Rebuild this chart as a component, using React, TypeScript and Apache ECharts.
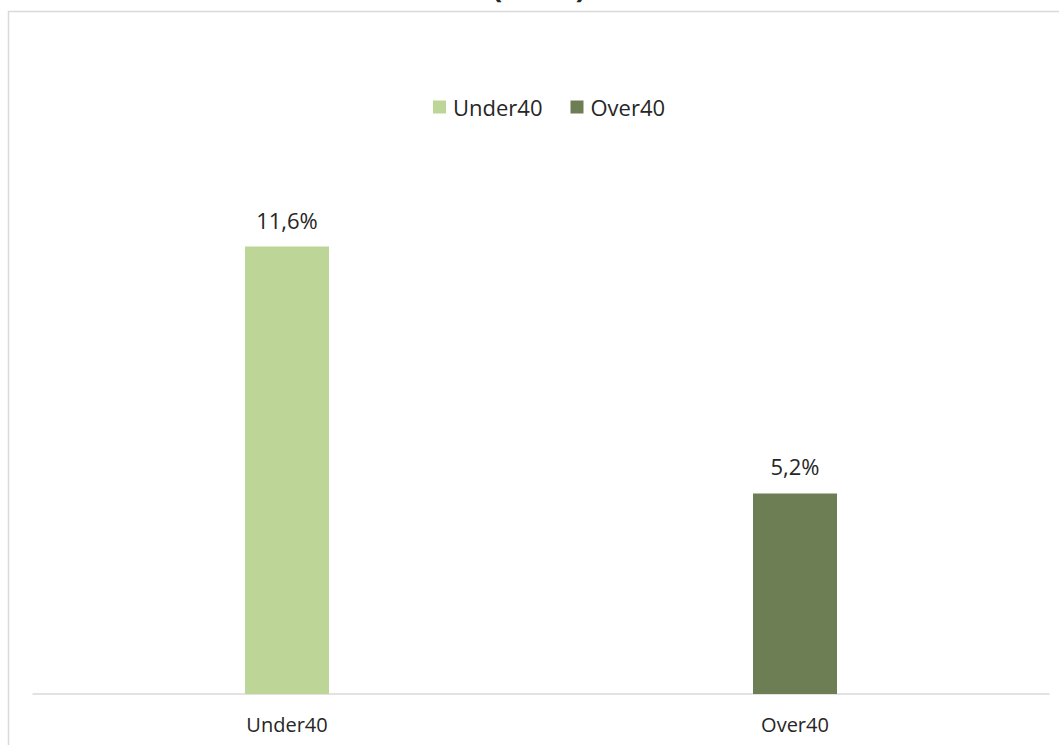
import React, { useEffect, useRef } from "react";
import * as echarts from "echarts";

const categories = ["Under40", "Over40"];
const under40Values = [11.6, null];
const over40Values = [null, 5.2];
const titleText = "(2019)";

export default function App() {
  const ref = useRef<HTMLDivElement>(null);
  useEffect(() => {
    const chart = echarts.init(ref.current!, undefined, { renderer: "svg" });
    const fmt = (p: any) =>
      p.value == null ? "" : String(p.value.toFixed(1)).replace(".", ",") + "%";
    const label = {
      show: true,
      position: "top",
      distance: 16,
      formatter: fmt,
      fontFamily: "Open Sans",
      fontSize: 22,
      color: "#262626",
    };
    chart.setOption({
      animation: false,
      backgroundColor: "#ffffff",
      textStyle: { fontFamily: "Open Sans" },
      graphic: [
        {
          type: "rect",
          shape: { x: 8.5, y: 11.5, width: 1200, height: 900 },
          style: { fill: "none", stroke: "#d9d9d9", lineWidth: 1.5 },
          silent: true,
        },
        {
          type: "text",
          x: 539,
          y: 0,
          style: {
            text: titleText,
            fontFamily: "Open Sans",
            fontWeight: "bold",
            fontSize: 32,
            fill: "#262626",
            align: "center",
            verticalAlign: "bottom",
          },
        },
      ],
      legend: {
        data: categories,
        top: 91,
        left: 428,
        icon: "rect",
        itemWidth: 13,
        itemHeight: 13,
        itemGap: 28,
        textStyle: { fontFamily: "Open Sans", fontSize: 22, color: "#262626", padding: [0, 0, 0, 2] },
      },
      grid: { left: 33, right: 10, top: 154, bottom: 51, containLabel: false },
      xAxis: {
        type: "category",
        data: categories,
        axisLine: { lineStyle: { color: "#d9d9d9", width: 1.5 } },
        axisTick: { show: false },
        axisLabel: { fontFamily: "Open Sans", fontSize: 20, color: "#262626", margin: 20 },
      },
      yAxis: {
        type: "value",
        min: 0,
        max: 14,
        show: false,
        splitLine: { show: false },
      },
      series: [
        {
          name: "Under40",
          type: "bar",
          stack: "a",
          data: under40Values,
          barWidth: 84,
          itemStyle: { color: "#BDD597" },
          label,
        },
        {
          name: "Over40",
          type: "bar",
          stack: "a",
          data: over40Values,
          barWidth: 84,
          itemStyle: { color: "#6D7D54" },
          label,
        },
      ],
    });
    return () => chart.dispose();
  }, []);
  return (
    <div
      ref={ref}
      style={{ position: "absolute", left: 0, top: 0, width: 1059, height: 745 }}
    />
  );
}
